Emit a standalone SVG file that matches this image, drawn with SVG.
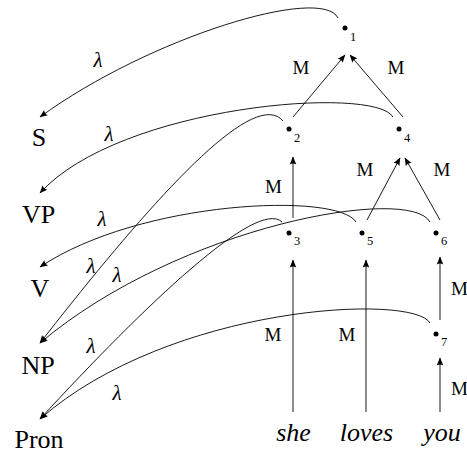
<svg xmlns="http://www.w3.org/2000/svg" width="467" height="453" viewBox="0 0 467 453">
<style>
.lbl{font-family:"Liberation Serif",serif;font-size:26px;fill:#000;text-anchor:middle}
.wd{font-family:"Liberation Serif",serif;font-size:26px;font-style:italic;fill:#000;text-anchor:middle}
.m{font-family:"Liberation Serif",serif;font-size:19px;fill:#000;text-anchor:middle}
.lam{font-family:"Liberation Serif",serif;font-size:21px;font-style:italic;fill:#000;text-anchor:middle}
.sub{font-family:"Liberation Serif",serif;font-size:12.5px;fill:#000}
.e{fill:none;stroke:#000;stroke-width:0.9;marker-end:url(#ah)}
</style>
<defs>
<marker id="ah" markerUnits="userSpaceOnUse" markerWidth="12" markerHeight="12" refX="0" refY="0" orient="auto" overflow="visible">
<path d="M0.5,0 L-7.5,-3.3 Q-5.3,0 -7.5,3.3 Z" fill="#000"/>
</marker>
</defs>
<g id="connectors">
<path class="e" d="M338,18 C322,-15 150,37 40,117"/>
<path class="e" d="M393,117 C375,85 120,105 40,193"/>
<path class="e" d="M356,222 C338,192 140,200 40,267"/>
<path class="e" d="M283,121 C252,84 140,215 40,343"/>
<path class="e" d="M430,222 C410,185 180,225 40,343"/>
<path class="e" d="M282,222 C257,198 145,305 40,419"/>
<path class="e" d="M430,323 C413,293 170,305 40,419"/>
<path class="e" d="M293,117 L345,55"/>
<path class="e" d="M403,117 L350,55"/>
<path class="e" d="M293,218 L293,157"/>
<path class="e" d="M367,220 L400,158"/>
<path class="e" d="M440,220 L405,158"/>
<path class="e" d="M293,412 L293,260"/>
<path class="e" d="M366,412 L366,260"/>
<path class="e" d="M440,320 L440,257"/>
<path class="e" d="M440,412 L440,358"/>
<text class="lam" x="98" y="67">λ</text>
<text class="lam" x="109" y="141">λ</text>
<text class="lam" x="102" y="226">λ</text>
<text class="lam" x="91" y="273">λ</text>
<text class="lam" x="117" y="282">λ</text>
<text class="lam" x="91" y="353">λ</text>
<text class="lam" x="117" y="400">λ</text>
<text class="m" x="301" y="74">M</text>
<text class="m" x="396" y="74">M</text>
<text class="m" x="273.5" y="193">M</text>
<text class="m" x="365" y="176">M</text>
<text class="m" x="442" y="176">M</text>
<text class="m" x="273" y="341">M</text>
<text class="m" x="347" y="341">M</text>
<text class="m" x="451" y="295" style="text-anchor:start">M</text>
<text class="m" x="451" y="395" style="text-anchor:start">M</text>
</g>
<g id="n1"><circle cx="345" cy="28" r="2.5"/><text class="sub" x="350" y="41">1</text></g>
<g id="n2"><circle cx="289" cy="129" r="2.5"/><text class="sub" x="294" y="142">2</text></g>
<g id="n4"><circle cx="399" cy="129" r="2.5"/><text class="sub" x="404" y="142">4</text></g>
<g id="n3"><circle cx="289" cy="233" r="2.5"/><text class="sub" x="294" y="245">3</text></g>
<g id="n5"><circle cx="362" cy="233" r="2.5"/><text class="sub" x="367" y="245">5</text></g>
<g id="n6"><circle cx="436" cy="233" r="2.5"/><text class="sub" x="441" y="245">6</text></g>
<g id="n7"><circle cx="436" cy="334" r="2.5"/><text class="sub" x="441" y="346">7</text></g>
<g id="S"><text class="lbl" x="39" y="146">S</text></g>
<g id="VP"><text class="lbl" x="38.5" y="223">VP</text></g>
<g id="V"><text class="lbl" x="40" y="297">V</text></g>
<g id="NP"><text class="lbl" x="38" y="374">NP</text></g>
<g id="Pron"><text class="lbl" x="39" y="448">Pron</text></g>
<g id="she"><text class="wd" x="293.5" y="441">she</text></g>
<g id="loves"><text class="wd" x="366.5" y="441">loves</text></g>
<g id="you"><text class="wd" x="442" y="441">you</text></g>
</svg>
